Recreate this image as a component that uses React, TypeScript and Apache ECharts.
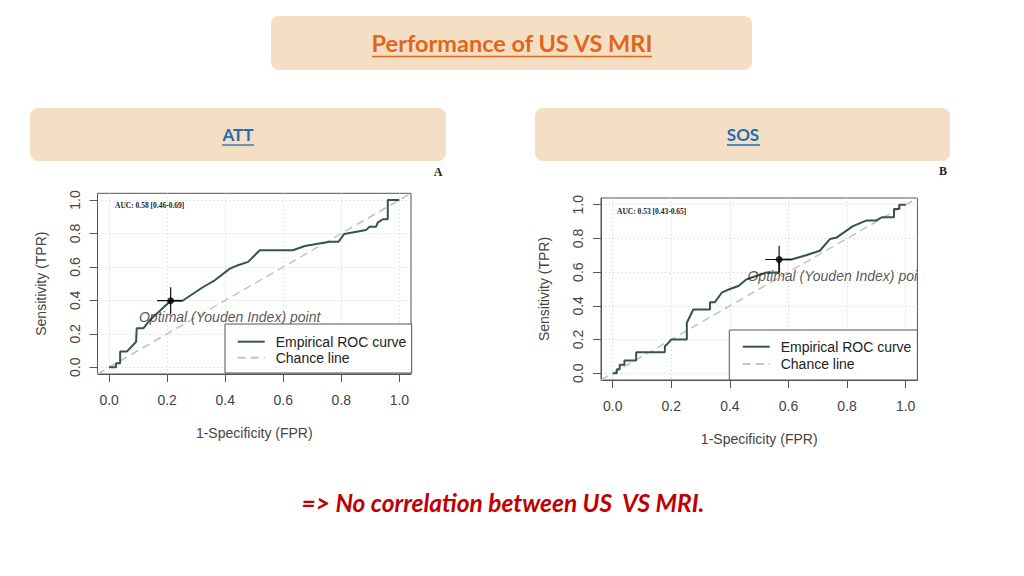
import React, { useEffect, useRef } from "react";
import * as echarts from "echarts";

// ---------- data ----------
const tickValues = [0, 0.2, 0.4, 0.6, 0.8, 1.0];
const chanceFpr = [-0.04, 1.04];
const chanceTpr = [-0.04, 1.04];

const attFpr = [0, 0.024, 0.024, 0.038, 0.038, 0.061, 0.093, 0.095, 0.095, 0.118, 0.141, 0.212, 0.253, 0.324, 0.364, 0.416, 0.444, 0.479, 0.519, 0.633, 0.674, 0.76, 0.79, 0.81, 0.885, 0.897, 0.92, 0.925, 0.943, 0.96, 0.96, 1.0];
const attTpr = [0, 0, 0.024, 0.024, 0.094, 0.094, 0.153, 0.153, 0.233, 0.233, 0.283, 0.398, 0.398, 0.48, 0.52, 0.59, 0.61, 0.63, 0.7, 0.7, 0.725, 0.75, 0.75, 0.797, 0.82, 0.84, 0.84, 0.865, 0.885, 0.885, 1.0, 1.0];
const attYouden = [0.212, 0.398];
const attCiFpr = [0.165, 0.25];
const attCiTpr = [0.32, 0.478];
const attAuc = "AUC: 0.58 [0.46-0.69]";

const sosFpr = [0, 0.014, 0.014, 0.024, 0.024, 0.04, 0.04, 0.08, 0.08, 0.178, 0.178, 0.19, 0.2, 0.253, 0.253, 0.275, 0.332, 0.332, 0.349, 0.372, 0.4, 0.429, 0.457, 0.525, 0.568, 0.568, 0.61, 0.66, 0.707, 0.742, 0.765, 0.82, 0.867, 0.9, 0.92, 0.96, 0.96, 0.978, 0.978, 1.0];
const sosTpr = [0, 0, 0.024, 0.024, 0.05, 0.05, 0.076, 0.076, 0.124, 0.124, 0.16, 0.18, 0.2, 0.2, 0.3, 0.378, 0.378, 0.422, 0.422, 0.478, 0.5, 0.518, 0.558, 0.598, 0.598, 0.675, 0.675, 0.7, 0.727, 0.797, 0.806, 0.873, 0.907, 0.907, 0.926, 0.926, 0.975, 0.975, 1.0, 1.0];
const sosYouden = [0.568, 0.675];
const sosCiFpr = [0.52, 0.61];
const sosCiTpr = [0.598, 0.757];
const sosAuc = "AUC: 0.53 [0.43-0.65]";

const legendNames = ["Empirical ROC curve", "Chance line"];
const youdenLabel = "Optimal (Youden Index) point";

// ---------- helpers ----------
const zip = (a: number[], b: number[]) => a.map((v, i) => [v, b[i]]);
const AX_FONT = "Liberation Sans";
const AX_SIZE = 14;

function mkX(i: number) {
  return {
    type: "value",
    gridIndex: i,
    min: -0.04,
    max: 1.04,
    axisLine: { show: true, onZero: false, lineStyle: { color: "#555", width: 1 } },
    axisTick: { show: true, length: 8, customValues: tickValues, lineStyle: { color: "#555" } },
    axisLabel: {
      customValues: tickValues,
      formatter: (v: number) => v.toFixed(1),
      margin: 19,
      fontSize: AX_SIZE,
      color: "#444",
      fontFamily: AX_FONT,
    },
    splitLine: { show: true, lineStyle: { color: "#cfcfcf", type: [1, 3], width: 1 } },
    name: "1-Specificity (FPR)",
    nameLocation: "middle",
    nameGap: 52,
    nameTextStyle: { fontSize: AX_SIZE, color: "#444", fontFamily: AX_FONT },
  };
}
function mkY(i: number) {
  return {
    type: "value",
    gridIndex: i,
    min: -0.04,
    max: 1.04,
    axisLine: { show: true, onZero: false, lineStyle: { color: "#555", width: 1 } },
    axisTick: { show: true, length: 8, customValues: tickValues, lineStyle: { color: "#555" } },
    axisLabel: {
      customValues: tickValues,
      formatter: (v: number) => v.toFixed(1),
      rotate: 90,
      margin: 16,
      fontSize: AX_SIZE,
      color: "#444",
      fontFamily: AX_FONT,
    },
    splitLine: { show: true, lineStyle: { color: "#cfcfcf", type: [1, 3], width: 1 } },
    name: "Sensitivity (TPR)",
    nameLocation: "middle",
    nameGap: 50,
    nameRotate: 90,
    nameTextStyle: { fontSize: AX_SIZE, color: "#444", fontFamily: AX_FONT },
  };
}

function plotSeries(i: number, fpr: number[], tpr: number[], youden: number[], ciF: number[], ciT: number[]) {
  return [
    {
      name: legendNames[1],
      type: "line",
      xAxisIndex: i,
      yAxisIndex: i,
      data: zip(chanceFpr, chanceTpr),
      symbol: "none",
      lineStyle: { color: "#c4c4c4", width: 1.6, type: [8, 5] },
      itemStyle: { color: "#c4c4c4" },
      z: 2,
    },
    {
      name: legendNames[0],
      type: "line",
      xAxisIndex: i,
      yAxisIndex: i,
      data: zip(fpr, tpr),
      symbol: "none",
      lineStyle: { color: "#355549", width: 2 },
      itemStyle: { color: "#355549" },
      z: 3,
    },
    {
      name: "ci-h",
      type: "line",
      xAxisIndex: i,
      yAxisIndex: i,
      data: zip(ciF, [youden[1], youden[1]]),
      symbol: "none",
      lineStyle: { color: "#111", width: 1.2 },
      z: 4,
    },
    {
      name: "ci-v",
      type: "line",
      xAxisIndex: i,
      yAxisIndex: i,
      data: zip([youden[0], youden[0]], ciT),
      symbol: "none",
      lineStyle: { color: "#111", width: 1.2 },
      z: 4,
    },
    {
      name: "youden",
      type: "scatter",
      xAxisIndex: i,
      yAxisIndex: i,
      data: [youden],
      symbol: "circle",
      symbolSize: 7,
      itemStyle: { color: "#000" },
      label: {
        show: true,
        formatter: youdenLabel,
        position: "inside",
        offset: [59, 16],
        fontSize: 14,
        fontStyle: "italic",
        color: "#2a2a2a",
        fontFamily: AX_FONT,
      },
      z: 5,
    },
  ];
}

function mkLegend(left: number, top: number, padding: number[], gap: number) {
  return {
    orient: "vertical",
    left,
    top,
    padding,
    itemWidth: 27,
    itemHeight: 14,
    itemGap: gap,
    backgroundColor: "#ffffff",
    borderColor: "#555",
    borderWidth: 1,
    borderRadius: 0,
    selectedMode: false,
    itemStyle: { opacity: 0 },
    data: legendNames,
    textStyle: { fontSize: 14, color: "#222", fontFamily: AX_FONT, padding: [0, 0, 0, 6] },
    z: 10,
  };
}

const BOX_FILL = "#f5dfc4";

export default function App() {
  const ref = useRef<HTMLDivElement>(null);
  useEffect(() => {
    if (!ref.current) return;
    const chart = echarts.init(ref.current, undefined, { renderer: "svg" });
    const option: any = {
      animation: false,
      backgroundColor: "#ffffff",
      grid: [
        { left: 97.5, top: 193.3, width: 313.5, height: 180.7, show: true, borderColor: "#555", borderWidth: 1, backgroundColor: "transparent" },
        { left: 601, top: 198, width: 316.4, height: 182, show: true, borderColor: "#555", borderWidth: 1, backgroundColor: "transparent" },
      ],
      xAxis: [mkX(0), mkX(1)],
      yAxis: [mkY(0), mkY(1)],
      legend: [
        mkLegend(225, 324, [10.7, 5.3, 8.3, 11.7], 2),
        mkLegend(729.3, 330, [9.7, 6, 9, 12.4], 3.3),
      ],
      series: [
        ...plotSeries(0, attFpr, attTpr, attYouden, attCiFpr, attCiTpr),
        ...plotSeries(1, sosFpr, sosTpr, sosYouden, sosCiFpr, sosCiTpr),
      ],
      graphic: [
        // header boxes
        { type: "rect", shape: { x: 271, y: 16, width: 481, height: 54, r: 8 }, style: { fill: BOX_FILL }, z: 0 },
        { type: "rect", shape: { x: 30, y: 108, width: 416, height: 53, r: 8 }, style: { fill: BOX_FILL }, z: 0 },
        { type: "rect", shape: { x: 535, y: 108, width: 415, height: 53, r: 8 }, style: { fill: BOX_FILL }, z: 0 },
        {
          type: "text", x: 512, y: 43, z: 1,
          style: { text: "Performance of US VS MRI", fill: "#e2661a", font: "bold 23.5px Lato", align: "center", verticalAlign: "middle" },
        },
        { type: "line", shape: { x1: 372, y1: 56.5, x2: 652, y2: 56.5 }, style: { stroke: "#e2661a", lineWidth: 1.5 }, z: 1 },
        {
          type: "text", x: 238, y: 134, z: 1,
          style: { text: "ATT", fill: "#1f6db5", font: "bold 17px Lato", align: "center", verticalAlign: "middle" },
        },
        { type: "line", shape: { x1: 222, y1: 145, x2: 254, y2: 145 }, style: { stroke: "#1f6db5", lineWidth: 1.3 }, z: 1 },
        {
          type: "text", x: 743, y: 134, z: 1,
          style: { text: "SOS", fill: "#1f6db5", font: "bold 17px Lato", align: "center", verticalAlign: "middle" },
        },
        { type: "line", shape: { x1: 727, y1: 145, x2: 760, y2: 145 }, style: { stroke: "#1f6db5", lineWidth: 1.3 }, z: 1 },
        // panel letters
        { type: "text", x: 438, y: 172, z: 1, style: { text: "A", fill: "#222", font: "bold 12px 'Liberation Serif'", align: "center", verticalAlign: "middle" } },
        { type: "text", x: 943, y: 171, z: 1, style: { text: "B", fill: "#222", font: "bold 12px 'Liberation Serif'", align: "center", verticalAlign: "middle" } },
        // AUC texts
        { type: "text", x: 115, y: 205.5, z: 6, style: { text: attAuc, fill: "#222", font: "bold 7.5px 'Liberation Serif'", align: "left", verticalAlign: "middle" } },
        { type: "text", x: 617, y: 211.5, z: 6, style: { text: sosAuc, fill: "#222", font: "bold 7.5px 'Liberation Serif'", align: "left", verticalAlign: "middle" } },
        // clip of the label overflowing the right panel
        { type: "rect", shape: { x: 918, y: 262, width: 100, height: 30 }, style: { fill: "#ffffff" }, z: 100 },
        // conclusion
        {
          type: "text", x: 503, y: 502, z: 1,
          style: { text: "=> No correlation between US  VS MRI.", fill: "#c00000", font: "italic bold 24.5px Lato", align: "center", verticalAlign: "middle" },
        },
      ],
    };
    chart.setOption(option);
    return () => chart.dispose();
  }, []);
  return <div ref={ref} style={{ position: "absolute", left: 0, top: 0, width: 1024, height: 576 }} />;
}
